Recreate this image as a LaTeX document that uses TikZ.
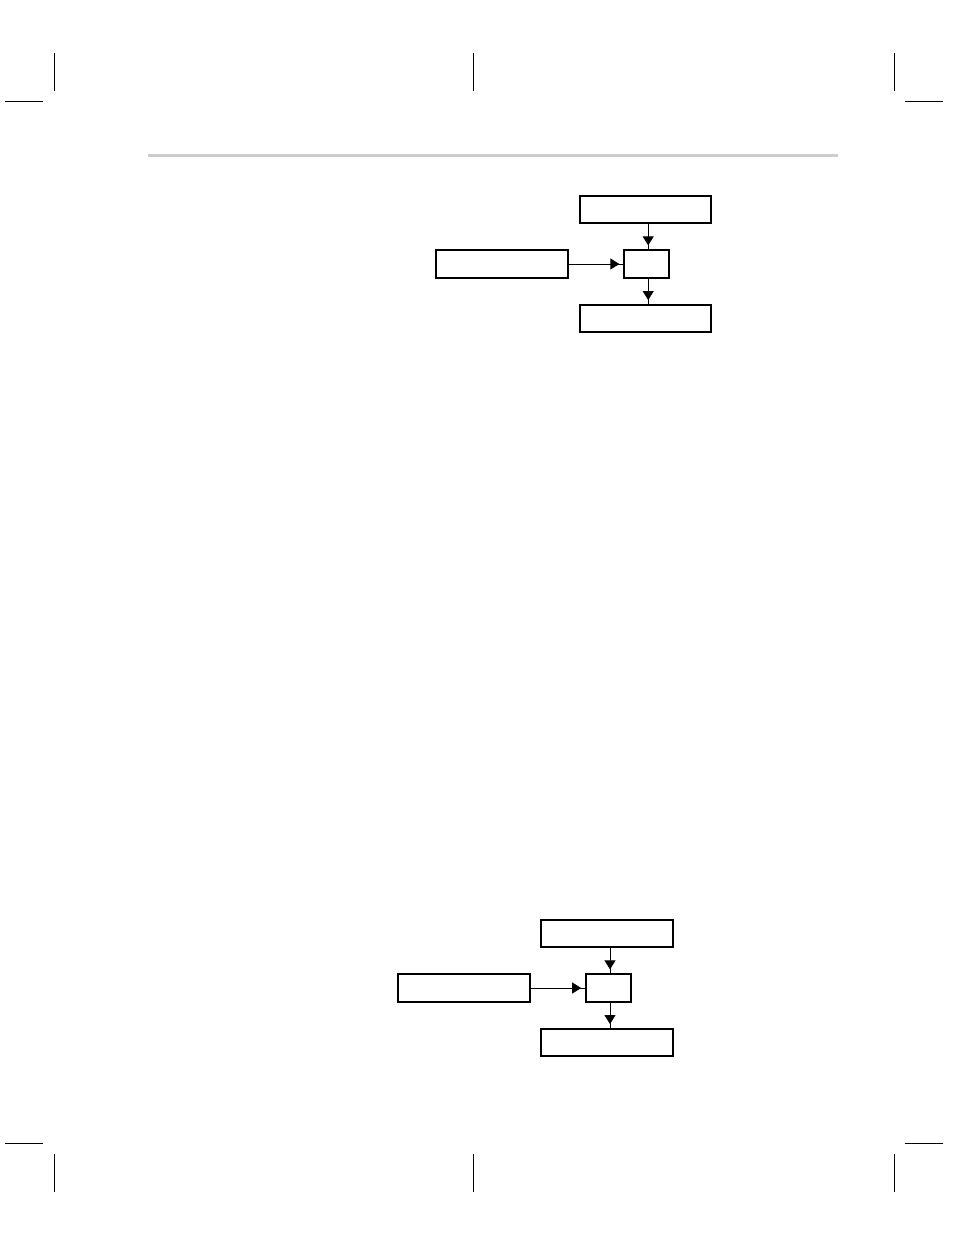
\documentclass[tikz,border=0pt]{standalone}
\usetikzlibrary{arrows.meta}
\tikzset{
  blk/.style={draw, line width=2pt, inner sep=0pt, minimum height=27.3pt},
  feed/.style={line width=0.8pt, postaction={draw, -{Triangle[length=9pt,width=11pt]}, shorten >=4pt}},
  crop/.style={line width=1pt}
}
\begin{document}
\begin{tikzpicture}[x=1pt,y=-1pt]
\useasboundingbox (0,0) rectangle (954,1235);
% crop marks
\foreach \x in {54.3,473.3,894.7} {
  \draw [crop](\x,53) -- (\x,91);
  \draw [crop](\x,1154) -- (\x,1192);
}
\draw [crop](5,101.3) -- (43,101.3);
\draw [crop](905,101.3) -- (943,101.3);
\draw [crop](5,1143.3) -- (43,1143.3);
\draw [crop](905,1143.3) -- (943,1143.3);
% header rule
\draw [line width=3pt, color=black!20](148,155.7) -- (837.7,155.7);
% the two block diagrams
\foreach \i/\dx/\dy in {1/0/0, 2/-38.2/724} {
\begin{scope}[shift={(\dx,\dy)}]
\node [blk, minimum width=131.6pt] (top\i) at (645.4,209.5) {};
\node [blk, minimum width=44.7pt] (mid\i) at (646.7,264) {};
\node [blk, minimum width=132.3pt] (left\i) at (502.2,264) {};
\node [blk, minimum width=131.6pt] (bot\i) at (645.4,318.7) {};
\draw [feed]([xshift=1.5pt]top\i.south -| mid\i.north) -- ([xshift=1.5pt]mid\i.north);
\draw [feed](left\i.east) -- (mid\i.west);
\draw [feed]([xshift=1.5pt]mid\i.south) -- ([xshift=1.5pt]bot\i.north -| mid\i.south);
\end{scope}
}
\end{tikzpicture}
\end{document}
